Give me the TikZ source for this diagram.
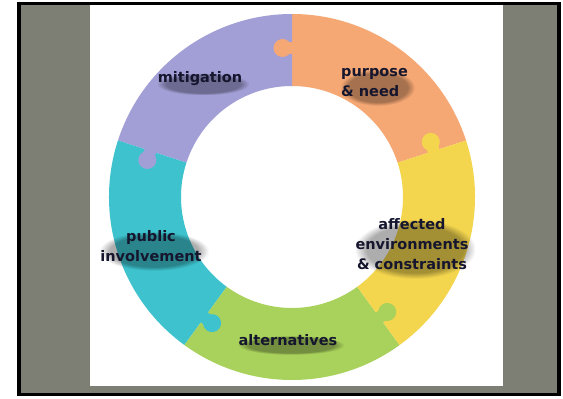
\documentclass[tikz,border=0pt]{standalone}
\usepackage{fontspec}
\setmainfont{DejaVu Sans}
\usetikzlibrary{fadings}
\definecolor{panelgray}{HTML}{7D7E74}
\definecolor{mitcolor}{HTML}{A29FD6}
\definecolor{purcolor}{HTML}{F6A874}
\definecolor{affcolor}{HTML}{F3D54E}
\definecolor{altcolor}{HTML}{A9D25C}
\definecolor{pubcolor}{HTML}{3EC3CE}
\definecolor{textnavy}{HTML}{15162E}
\tikzstyle{piecetext} = [font=\bfseries\fontsize{14.5}{20}\selectfont, text=textnavy,
    inner sep=4pt,
    preaction={fill=black, fill opacity=0.32, path fading=circle with fuzzy edge 20 percent,
        transform canvas={xshift=3pt, yshift=-5pt}}]
% one piece of the ring: colour, start angle, end angle
\newcommand{\ringpiece}[3]{\fill[#1] (#2:183) arc[start angle=#2, end angle=#3, radius=183]
    -- (#3:111) arc[start angle=#3, end angle=#2, radius=111] -- cycle;}
% the knob of a piece, sitting on the boundary at the given angle
\newcommand{\ringknob}[2]{\begin{scope}[rotate=#2]
    \fill[#1] (143,-1) rectangle (155,6);
    \fill[#1] (149,9.5) circle (9);
  \end{scope}}

\begin{document}
\begin{tikzpicture}[x=1pt, y=1pt]
    \useasboundingbox (0,0) rectangle (563,399);
    % draw the frame and the panels first
    \fill[panelgray] (19,4.5) rectangle (559,395.5);
    \fill[white] (90,13) rectangle (503,393.5);
    \draw[line width=3.5pt] (19,4.5) rectangle (559,395.5);

    % draw the pieces of the ring
    \begin{scope}[shift={(292,202)}]
        \ringpiece{purcolor}{18}{90}
        \ringpiece{mitcolor}{90}{162}
        \ringpiece{pubcolor}{162}{234}
        \ringpiece{altcolor}{234}{306}
        \ringpiece{affcolor}{306}{378}
        \ringknob{purcolor}{90}
        \ringknob{mitcolor}{162}
        \ringknob{pubcolor}{234}
        \ringknob{altcolor}{306}
        \ringknob{affcolor}{18}
    \end{scope}

    % draw the texts on the pieces
    \node [piecetext] (mitigation) at (200,320) {mitigation};
    \node [piecetext, align=left, anchor=west] (purpose) at (337,316.5) {purpose\\\& need};
    \node [piecetext, align=center] (affected) at (412,155) {affected\\environments\\\& constraints};
    \node [piecetext, align=center] (public) at (151,153) {public\\involvement};
    \node [piecetext] (alternatives) at (288,59) {alternatives};
\end{tikzpicture}
\end{document}
